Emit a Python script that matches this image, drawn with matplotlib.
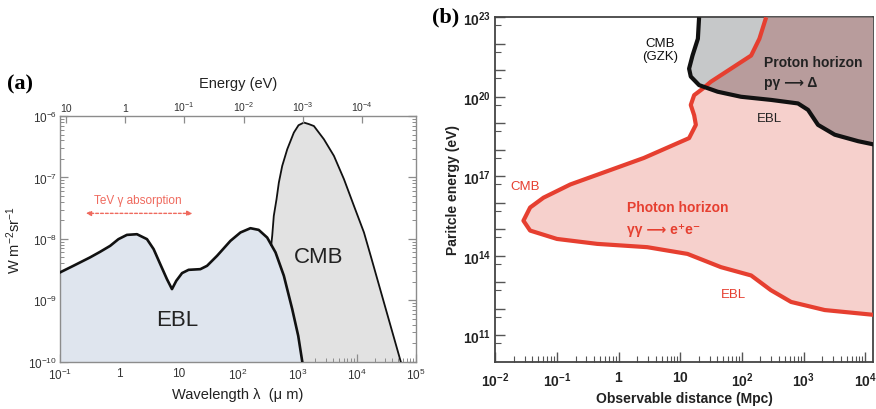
import numpy as np
import matplotlib
matplotlib.use('Agg')
from matplotlib import pyplot as plt
from matplotlib.ticker import FixedLocator, FixedFormatter, LogLocator, NullFormatter, NullLocator

plt.rcParams['font.family'] = ['Liberation Sans', 'DejaVu Sans']
plt.rcParams['mathtext.fontset'] = 'custom'
plt.rcParams['mathtext.rm'] = 'Liberation Sans'
plt.rcParams['mathtext.it'] = 'Liberation Sans:italic'
plt.rcParams['mathtext.bf'] = 'Liberation Sans:bold'

# (a) background spectra
ebl_lambda = [0.1, 0.168, 0.321, 0.474, 0.700, 0.966, 1.34, 1.98, 2.92, 3.78, 4.89, 6.34,
              7.71, 9.10, 11.4, 14.7, 23.2, 30.1, 44.4, 74.5, 110, 162, 223, 310, 429,
              592, 818, 1035, 1211]
ebl_flux = [2.84e-9, 3.64e-9, 4.99e-9, 6.15e-9, 7.69e-9, 9.89e-9, 1.16e-8, 1.19e-8, 9.89e-9,
            6.81e-9, 3.88e-9, 2.21e-9, 1.52e-9, 2.07e-9, 2.77e-9, 3.13e-9, 3.21e-9, 3.64e-9,
            5.30e-9, 9.27e-9, 1.27e-8, 1.49e-8, 1.40e-8, 1.05e-8, 6.01e-9, 2.51e-9, 7.24e-10,
            2.63e-10, 1.0e-10]
cmb_lambda = [363, 377, 401, 446, 488, 556, 676, 873, 1047, 1288, 1549, 1901, 2805, 4140,
              6109, 8995, 13270, 17220, 30900, 55340]
cmb_flux = [7.94e-9, 1.12e-8, 2.37e-8, 4.43e-8, 8.26e-8, 1.54e-7, 2.88e-7, 5.37e-7, 7.08e-7,
            7.82e-7, 7.41e-7, 6.87e-7, 4.18e-7, 2.24e-7, 9.35e-8, 3.44e-8, 1.27e-8, 5.30e-9,
            7.24e-10, 1.0e-10]
tev_range = [0.245, 19.0]
a_xticks = [1e-1, 1, 10, 1e2, 1e3, 1e4, 1e5]
a_xlabels = ['$10^{-1}$', '1', '10', '$10^{2}$', '$10^{3}$', '$10^{4}$', '$10^{5}$']
a_yticks = [1e-10, 1e-9, 1e-8, 1e-7, 1e-6]
a_ylabels = ['$10^{-10}$', '$10^{-9}$', '$10^{-8}$', '$10^{-7}$', '$10^{-6}$']
energy_ticks = [10, 1, 1e-1, 1e-2, 1e-3, 1e-4]
energy_labels = ['10', '1', '$10^{-1}$', '$10^{-2}$', '$10^{-3}$', '$10^{-4}$']

# (b) horizons
photon_dist = [247, 192, 141, 66.4, 31.4, 23.0, 16.8, 14.8, 16.8, 17.9, 13.9, 2.57, 0.652,
               0.165, 0.0605, 0.0367, 0.0286, 0.0367, 0.1, 0.448, 2.92, 13.1, 45.7, 141,
               295, 627, 2198, 14350]
photon_energy = [1e23, 1.55e22, 3.6e21, 1.15e21, 3.7e20, 2.0e20, 1.15e20, 4.9e19, 2.0e19,
                 8.7e18, 2.75e18, 4.9e17, 1.55e17, 4.9e16, 1.55e16, 6.6e15, 2.1e15, 8.9e14,
                 4.3e14, 2.8e14, 2.1e14, 1.17e14, 3.7e13, 1.8e13, 5.0e12, 1.8e12, 8.9e11, 5.8e11]
proton_dist = [20.2, 19.3, 15.8, 13.9, 14.8, 20.2, 40.4, 96.6, 298, 811, 1180, 1714, 3199,
               7691, 14350]
proton_energy = [1e23, 1.55e22, 3.6e21, 1.15e21, 5.8e20, 2.75e20, 1.55e20, 1.0e20, 7.6e19,
                 5.6e19, 3.2e19, 8.7e18, 3.7e18, 2.1e18, 1.55e18]
b_xticks = [1e-2, 1e-1, 1, 10, 1e2, 1e3, 1e4]
b_xlabels = [r'$\mathbf{10^{-2}}$', r'$\mathbf{10^{-1}}$', r'$\mathbf{1}$', r'$\mathbf{10}$',
             r'$\mathbf{10^{2}}$', r'$\mathbf{10^{3}}$', r'$\mathbf{10^{4}}$']
b_yexp = [11, 14, 17, 20, 23]

red = '#e63f30'
grey_axis = '#8c8c8c'

fig = plt.figure(figsize=(8.76, 4.10), dpi=100)

# ---------------- panel (a)
ax = fig.add_axes([0.0685, 0.1154, 0.4064, 0.5992])
ax.set_xscale('log')
ax.set_yscale('log')
ax.set_xlim(1e-1, 1e5)
ax.set_ylim(1e-10, 1e-6)
ax.fill_between(cmb_lambda, 1e-10, cmb_flux, color='#e2e2e2', lw=0, zorder=1)
ax.fill_between(ebl_lambda, 1e-10, ebl_flux, color='#dfe5ee', lw=0, zorder=2)
ax.plot(cmb_lambda, cmb_flux, color='#111111', lw=1.3, zorder=3)
ax.plot(ebl_lambda, ebl_flux, color='#111111', lw=1.9, zorder=4)

ax.annotate('', xy=(tev_range[0], 2.6e-8), xytext=(tev_range[1], 2.6e-8),
            arrowprops=dict(arrowstyle='<|-|>,head_length=0.3,head_width=0.15',
                            color='#ef6a5e', lw=1.0, ls=(0, (2, 1.5))))
ax.text(2.08, 4.3e-8, 'TeV γ absorption', color='#ef6a5e', fontsize=8.5,
        ha='center', va='center')
ax.text(9.5, 4.9e-10, 'EBL', fontsize=16, color='#222222', ha='center', va='center')
ax.text(2290, 5.2e-9, 'CMB', fontsize=16, color='#222222', ha='center', va='center')

for s in ax.spines.values():
    s.set_color(grey_axis)
    s.set_linewidth(1.0)
ax.xaxis.set_major_locator(FixedLocator(a_xticks))
ax.xaxis.set_major_formatter(FixedFormatter(a_xlabels))
ax.xaxis.set_minor_locator(LogLocator(base=10, subs=np.arange(2, 10), numticks=20))
ax.xaxis.set_minor_formatter(NullFormatter())
ax.yaxis.set_major_locator(FixedLocator(a_yticks))
ax.yaxis.set_major_formatter(FixedFormatter(a_ylabels))
ax.yaxis.set_minor_locator(LogLocator(base=10, subs=np.arange(2, 10), numticks=20))
ax.yaxis.set_minor_formatter(NullFormatter())
ax.tick_params(which='both', direction='in', color=grey_axis, labelsize=8.5,
               labelcolor='#333333', right=True, top=False)
ax.tick_params(which='major', length=6, width=0.9)
ax.tick_params(which='minor', length=3, width=0.7)
ax.tick_params(axis='x', pad=4)
ax.tick_params(axis='y', pad=2)
ax.set_xlabel('Wavelength λ  (μ m)', fontsize=10.5, color='#222222', labelpad=3)
ax.set_ylabel('W m$^{-2}$sr$^{-1}$', fontsize=10.5, color='#222222', labelpad=4)

top = ax.twiny()
top.set_xscale('log')
top.set_xlim(1.24 / 1e-1, 1.24 / 1e5)
top.xaxis.set_major_locator(FixedLocator(energy_ticks))
top.xaxis.set_major_formatter(FixedFormatter(energy_labels))
top.xaxis.set_minor_locator(NullLocator())
top.tick_params(direction='in', color=grey_axis, length=5, width=0.9, labelsize=7.5,
                labelcolor='#333333', pad=2)
for s in top.spines.values():
    s.set_visible(False)
top.set_xlabel('Energy (eV)', fontsize=10.5, color='#222222', labelpad=9)

fig.text(0.008, 0.795, '(a)', fontsize=16, fontweight='bold',
         family='Liberation Serif', va='center')

# ---------------- panel (b)
bx = fig.add_axes([0.5654, 0.1154, 0.4315, 0.84])
bx.set_xscale('log')
bx.set_yscale('log')
xmax = 1.35e4
bx.set_xlim(1e-2, xmax)
bx.set_ylim(1e10, 1e23)

red_x = photon_dist + [xmax * 10, xmax * 10]
red_y = photon_energy + [photon_energy[-1], photon_energy[0]]
blk_x = proton_dist + [xmax * 10, xmax * 10]
blk_y = proton_energy + [proton_energy[-1], proton_energy[0]]

bx.fill(red_x, red_y, color='#f6d0cc', lw=0, zorder=1)
grey_patch = bx.fill(blk_x, blk_y, color='#c6c8c9', lw=0, zorder=2)[0]
mauve = bx.fill(red_x, red_y, color='#b89c9c', lw=0, zorder=3)[0]
mauve.set_clip_path(grey_patch)
bx.plot(photon_dist, photon_energy, color=red, lw=3.0, zorder=4, solid_capstyle='butt')
bx.plot(proton_dist, proton_energy, color='#111111', lw=3.0, zorder=5, solid_capstyle='butt')

bx.text(4.8, 6.0e21, 'CMB\n(GZK)', fontsize=9.5, ha='center', va='center',
        color='#111111', linespacing=1.1)
bx.text(227, 2.0e21, 'Proton horizon', fontsize=10, fontweight='bold', ha='left',
        va='center', color='#222222')
bx.text(227, 3.7e20, 'pγ ⟶ Δ', fontsize=10, fontweight='bold', ha='left', va='center',
        color='#222222')
bx.text(275, 1.55e19, 'EBL', fontsize=9.5, ha='center', va='center', color='#222222')
bx.text(0.0305, 4.3e16, 'CMB', fontsize=9.5, ha='center', va='center', color=red)
bx.text(9.0, 7.1e15, 'Photon horizon', fontsize=10, fontweight='bold', ha='center',
        va='center', color=red)
bx.text(1.38, 1.0e15, 'γγ ⟶ e⁺e⁻', fontsize=10, fontweight='bold', ha='left',
        va='center', color=red)
bx.text(74, 3.7e12, 'EBL', fontsize=9.5, ha='center', va='center', color=red)

for s in bx.spines.values():
    s.set_color('#444444')
    s.set_linewidth(1.3)
bx.xaxis.set_major_locator(FixedLocator(b_xticks))
bx.xaxis.set_major_formatter(FixedFormatter(b_xlabels))
bx.xaxis.set_minor_locator(LogLocator(base=10, subs=np.arange(2, 10), numticks=20))
bx.xaxis.set_minor_formatter(NullFormatter())
b_ydec = [10.0 ** e for e in range(11, 24)]
bx.yaxis.set_major_locator(FixedLocator(b_ydec))
bx.yaxis.set_major_formatter(FixedFormatter(
    [r'$\mathbf{10^{%d}}$' % e if e in b_yexp else '' for e in range(11, 24)]))
bx.yaxis.set_minor_locator(FixedLocator([5 * 10.0 ** e for e in range(10, 23)]))
bx.yaxis.set_minor_formatter(NullFormatter())
bx.tick_params(which='both', direction='in', color='#555555', labelsize=10,
               labelcolor='#222222', top=False, right=False)
bx.tick_params(which='major', length=7, width=1.0)
bx.tick_params(which='minor', length=4, width=0.8)
bx.tick_params(axis='x', pad=6)
bx.tick_params(axis='y', pad=3)
bx.set_xlabel('Observable distance (Mpc)', fontsize=10, fontweight='bold',
              color='#222222', labelpad=2)
bx.set_ylabel('Paritcle energy (eV)', fontsize=10, fontweight='bold',
              color='#222222', labelpad=2)

fig.text(0.493, 0.957, '(b)', fontsize=16, fontweight='bold',
         family='Liberation Serif', va='center')

fig.savefig('out.png', dpi=100)
